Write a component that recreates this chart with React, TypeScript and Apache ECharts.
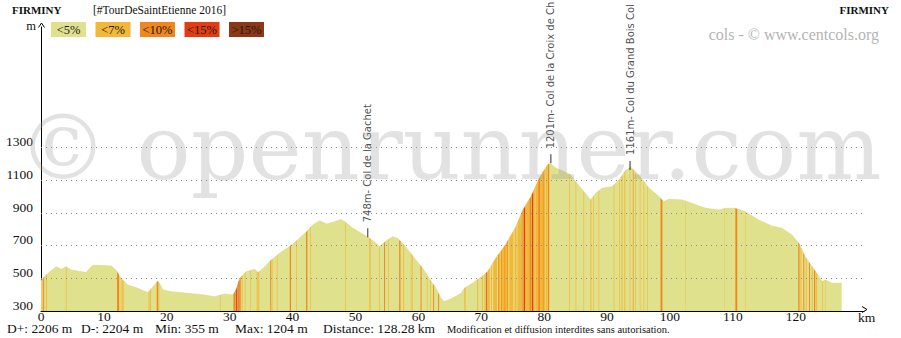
import React, { useEffect, useRef } from 'react';
import * as echarts from 'echarts';

// Elevation profile (km, metres)
const profileKm = [
  0, 0.3, 1.1, 2.4, 3.2, 4.0, 4.8, 6.4, 7.2, 7.7, 8.3, 9.6, 11.2, 12.0, 12.7, 13.8, 15.4, 17.0, 17.8, 18.6,
  19.4, 20.7, 23.3, 26.0, 27.6, 29.2, 30.5, 31.0, 31.6, 32.6, 34.0, 34.5, 35.3, 36.6, 37.9, 39.5, 40.8, 42.2,
  43.2, 44.3, 45.4, 46.4, 47.7, 48.5, 49.6, 50.9, 52.0, 53.0, 53.8, 54.9, 55.9, 56.7, 57.5, 58.6, 59.6, 60.7,
  61.7, 62.8, 63.6, 64.1, 65.4, 66.8, 67.3, 68.6, 70.2, 71.0, 72.3, 73.9, 75.5, 76.6, 77.9, 79.2, 80.5, 80.9,
  81.9, 83.2, 84.2, 85.0, 86.1, 87.4, 88.2, 89.2, 90.8, 91.9, 93.0, 93.8, 95.1, 96.7, 98.3, 99.0, 99.8, 102.0,
  103.5, 105.7, 107.8, 108.8, 110.4, 112.0, 114.1, 116.2, 117.8, 119.4, 120.5, 121.5, 122.6, 123.7, 124.2,
  124.7, 125.8, 127.3,
];
const profileElev = [
  485, 500, 530, 571, 555, 571, 551, 541, 535, 561, 580, 578, 575, 547, 500, 459, 439, 412, 449, 484,
  429, 418, 408, 398, 388, 404, 398, 429, 500, 541, 555, 535, 561, 612, 653, 694, 735, 786,
  827, 853, 833, 843, 861, 841, 806, 776, 752, 724, 694, 730, 755, 745, 714, 663, 612, 561,
  500, 439, 378, 357, 378, 408, 439, 470, 514, 541, 623, 708, 816, 918, 1000, 1112, 1194, 1204,
  1174, 1153, 1133, 1092, 1041, 980, 1021, 1051, 1061, 1102, 1163, 1180, 1128, 1051, 1000, 969, 984, 980,
  959, 929, 918, 929, 929, 908, 857, 820, 806, 765, 714, 633, 571, 510, 480,
  490, 470, 470,
];

// Gradient classes
const gradeLabels = ['<5%', '<7%', '<10%', '<15%', '>15%'];
const gradeColors = ['#e0e18c', '#f2b838', '#f0861e', '#e23c12', '#8c3816'];

// Steeper sections: [startKm, endKm, gradeIndex]
const stripes = [
  [0.1, 0.25, 1], [0.35, 0.5, 2], [0.8, 0.95, 1], [3.95, 4.05, 1],
  [12.1, 12.4, 2], [12.5, 12.6, 1], [12.8, 13.0, 1], [13.1, 13.2, 1],
  [17.1, 17.25, 1], [17.35, 17.5, 1], [18.4, 18.6, 2], [18.65, 18.8, 1], [28.45, 28.55, 1],
  [30.6, 30.85, 2], [30.95, 31.15, 3], [31.2, 31.35, 2], [31.4, 31.55, 3], [31.6, 31.75, 2],
  [31.9, 32.05, 1], [32.4, 32.5, 1], [33.3, 33.4, 1],
  [34.3, 34.45, 1], [34.55, 34.7, 1], [36.45, 36.6, 2], [36.7, 36.8, 1], [37.5, 37.6, 1], [39.55, 39.75, 2],
  [40.6, 40.7, 1], [42.15, 42.35, 2], [42.8, 42.9, 1], [48.4, 48.5, 1], [52.2, 52.4, 1], [53.75, 53.85, 1],
  [54.55, 54.7, 2], [55.2, 55.3, 1],
  [56.95, 57.15, 2], [57.6, 57.75, 1], [58.8, 58.9, 1], [59.0, 59.1, 1], [60.35, 60.5, 2],
  [61.35, 61.45, 1], [61.85, 61.95, 1], [62.35, 62.5, 2], [63.15, 63.3, 2], [67.3, 67.5, 1],
  [69.35, 69.5, 1], [70.1, 70.25, 1], [70.5, 70.7, 1], [70.8, 70.95, 3], [71.0, 71.35, 1],
  [71.55, 71.7, 1], [71.9, 72.5, 1], [72.65, 72.8, 2], [72.8, 73.05, 1], [73.1, 74.3, 1], [73.15, 73.25, 2],
  [73.7, 73.8, 2], [74.15, 74.25, 2], [74.45, 75.1, 1], [75.3, 75.6, 1], [75.75, 76.3, 1], [76.4, 76.6, 2],
  [76.6, 76.75, 1], [76.75, 77.0, 3], [77.0, 77.6, 1], [77.65, 77.9, 2], [77.9, 78.05, 1], [78.05, 78.3, 3],
  [78.3, 78.5, 1], [78.6, 79.05, 1], [79.05, 79.4, 2], [79.4, 80.2, 1], [79.8, 79.9, 2],
  [80.3, 80.55, 1], [80.6, 80.8, 2],
  [84.0, 84.1, 1], [85.0, 85.1, 1], [86.25, 86.35, 1], [87.35, 87.5, 1], [87.8, 87.9, 1],
  [88.65, 88.75, 1], [91.05, 91.15, 1], [91.9, 92.0, 1], [92.3, 92.45, 1], [92.75, 92.9, 1],
  [93.6, 93.7, 1], [94.1, 94.2, 2], [94.5, 94.6, 1], [95.2, 95.3, 1], [95.8, 95.9, 1],
  [96.4, 96.5, 1], [98.5, 98.8, 2], [102.5, 102.55, 1], [108.6, 108.65, 1], [110.4, 110.7, 2],
  [112.0, 112.05, 1], [120.4, 120.6, 2], [120.75, 120.9, 1], [121.2, 121.35, 2], [121.6, 121.75, 1],
  [122.1, 122.25, 2], [122.55, 122.7, 1], [122.9, 123.1, 2], [123.25, 123.4, 1], [124.2, 124.3, 1],
  [124.7, 124.75, 1],
];

// Cols: [km, elevation, label]
const cols = [
  [51.95, 748, '748m- Col de la Gachet'],
  [81.06, 1201, '1201m- Col de la Croix de Ch'],
  [93.65, 1161, '1161m- Col du Grand Bois Col'],
];

const yGridValues = [500, 700, 900, 1100, 1300];
const yMaxLabel = 1300;
const xMaxLabel = 120;
const stats = ['D+: 2206 m', 'D-: 2204 m', 'Min: 355 m', 'Max: 1204 m', 'Distance: 128.28 km'];
const statsX = [7, 81, 155, 235, 323];
const notice = 'Modification et diffusion interdites sans autorisation.';
const startName = 'FIRMINY';
const endName = 'FIRMINY';
const eventName = '[#TourDeSaintEtienne 2016]';

const SERIF = '"Liberation Serif", "DejaVu Serif", serif';

function elevAt(km: number): number {
  if (km <= profileKm[0]) return profileElev[0];
  for (let i = 1; i < profileKm.length; i++) {
    if (km <= profileKm[i]) {
      const t = (km - profileKm[i - 1]) / (profileKm[i] - profileKm[i - 1]);
      return profileElev[i - 1] + t * (profileElev[i] - profileElev[i - 1]);
    }
  }
  return profileElev[profileElev.length - 1];
}

export default function App() {
  const ref = useRef<HTMLDivElement>(null);
  useEffect(() => {
    if (!ref.current) return;
    const chart = echarts.init(ref.current, null, { renderer: 'svg' });
    const profile = profileKm.map((k, i) => [k, profileElev[i]]);

    const legendGraphics: any[] = [];
    gradeLabels.forEach((lab, i) => {
      const x = 51 + i * 44.5;
      legendGraphics.push({
        type: 'rect', shape: { x, y: 22, width: 35, height: 15 },
        style: { fill: gradeColors[i] }, z: 10,
      });
      legendGraphics.push({
        type: 'text', x: x + 17.5, y: 29.5, z: 11,
        style: { text: lab, fill: '#1a1a1a', font: `12.5px ${SERIF}`, align: 'center', verticalAlign: 'middle' },
      });
    });

    const textGraphics: any[] = [
      { type: 'text', x: 12, y: 10, style: { text: startName, fill: '#111', font: `bold 11px ${SERIF}`, verticalAlign: 'middle' } },
      { type: 'text', x: 93, y: 10, style: { text: eventName, fill: '#111', font: `11.5px ${SERIF}`, verticalAlign: 'middle' } },
      { type: 'text', x: 889, y: 10, style: { text: endName, fill: '#111', font: `bold 11px ${SERIF}`, align: 'right', verticalAlign: 'middle' } },
      { type: 'text', x: 879, y: 34, style: { text: 'cols - © www.centcols.org', fill: '#b4b4b4', font: `16px ${SERIF}`, align: 'right', verticalAlign: 'middle' } },
      { type: 'text', x: 36, y: 25.5, style: { text: 'm', fill: '#111', font: `12.5px ${SERIF}`, align: 'right', verticalAlign: 'middle' } },
      { type: 'text', x: 858, y: 317, style: { text: 'km', fill: '#111', font: `13.5px ${SERIF}`, verticalAlign: 'middle' } },
      { type: 'polyline', shape: { points: [[38.5, 27.5], [41.5, 23], [44.5, 27.5]] }, style: { stroke: '#000', lineWidth: 1, fill: null } },
      { type: 'polyline', shape: { points: [[862, 306.5], [867, 309.5], [862, 312.5]] }, style: { stroke: '#000', lineWidth: 1, fill: null } },
      { type: 'text', x: 447, y: 329, style: { text: notice, fill: '#111', font: `10.5px ${SERIF}`, verticalAlign: 'middle' } },
      {
        type: 'text', x: 18, y: 147, z: 50, silent: true,
        style: { text: '© openrunner.com', fill: 'rgba(160,160,160,0.3)', font: '90px "DejaVu Serif", serif', verticalAlign: 'middle' },
      },
    ];
    stats.forEach((s, i) => {
      textGraphics.push({ type: 'text', x: statsX[i], y: 328, style: { text: s, fill: '#111', font: `13.5px ${SERIF}`, verticalAlign: 'middle' } });
    });

    chart.setOption({
      animation: false,
      backgroundColor: '#fff',
      grid: { left: 41, right: 37, top: 27, bottom: 27, containLabel: false },
      xAxis: {
        type: 'value', min: 0, max: 130.85, interval: 10,
        axisLine: { show: true, onZero: false, lineStyle: { color: '#000', width: 1 } },
        axisTick: { show: false },
        splitLine: { show: false },
        axisLabel: {
          margin: -2, color: '#111', fontSize: 13.5, fontFamily: SERIF,
          formatter: (v: number) => (v <= xMaxLabel ? String(v) : ''),
          showMaxLabel: false,
        },
      },
      yAxis: {
        type: 'value', min: 300, max: 2039, interval: 200,
        axisLine: { show: true, onZero: false, lineStyle: { color: '#000', width: 1 } },
        axisTick: { show: false },
        splitLine: { show: false },
        axisLabel: {
          margin: 8, color: '#111', fontSize: 13.5, fontFamily: SERIF,
          verticalAlign: 'bottom', lineHeight: 12,
          formatter: (v: number) => (v <= yMaxLabel ? String(v) : ''),
        },
      },
      series: [
        {
          type: 'line', z: 1, data: profile, symbol: 'none', silent: true,
          lineStyle: { opacity: 0 },
          markLine: {
            silent: true, symbol: ['none', 'none'], label: { show: false },
            lineStyle: { type: [1, 4], color: '#8a8a8a', width: 1 },
            data: yGridValues.map((v) => ({ yAxis: v })),
          },
        },
        {
          type: 'line', z: 2, data: profile, symbol: 'none', silent: true,
          lineStyle: { color: '#d6d880', width: 0.6 },
          areaStyle: { color: gradeColors[0], opacity: 1 },
        },
        {
          type: 'custom', z: 3, silent: true,
          data: stripes,
          encode: { x: [0, 1] },
          renderItem: (params: any, api: any) => {
            const k0 = api.value(0);
            const k1 = api.value(1);
            const cls = api.value(2);
            const pts: number[][] = [];
            pts.push(api.coord([k0, 300]));
            pts.push(api.coord([k0, elevAt(k0)]));
            profileKm.forEach((k, i) => {
              if (k > k0 && k < k1) pts.push(api.coord([k, profileElev[i]]));
            });
            pts.push(api.coord([k1, elevAt(k1)]));
            pts.push(api.coord([k1, 300]));
            return { type: 'polygon', shape: { points: pts }, style: { fill: gradeColors[cls] } };
          },
        },
        {
          type: 'scatter', z: 4, silent: true,
          data: cols,
          symbol: 'rect', symbolSize: [1.2, 9], symbolOffset: [0, -5],
          itemStyle: { color: '#222' },
          label: {
            show: true, position: 'top', distance: 6, rotate: 90, align: 'left', verticalAlign: 'middle',
            fontFamily: '"DejaVu Sans", sans-serif', fontSize: 10, color: '#222',
            formatter: (p: any) => p.data[2],
          },
        },
      ],
      graphic: [...legendGraphics, ...textGraphics],
    });
    return () => chart.dispose();
  }, []);
  return (
    <div
      ref={ref}
      style={{ position: 'absolute', left: 0, top: 0, width: 901, height: 338, background: '#fff' }}
    />
  );
}
